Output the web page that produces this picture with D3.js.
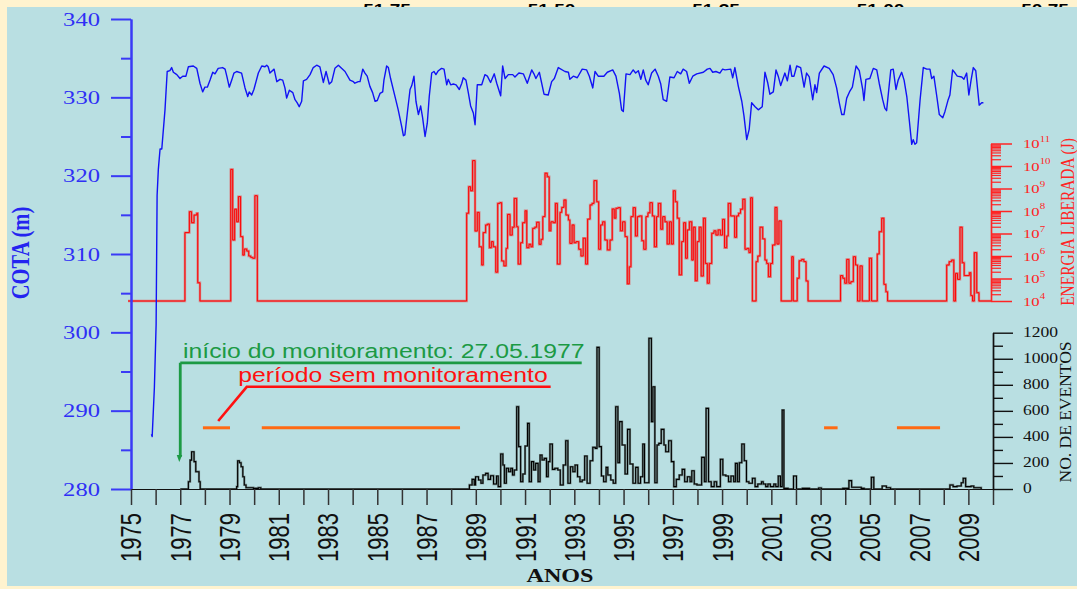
<!DOCTYPE html>
<html>
<head>
<meta charset="utf-8">
<script src="https://cdn.jsdelivr.net/npm/d3@7"></script>
<style>
  html, body { margin: 0; padding: 0; background: #fff3cf; }
  svg { display: block; }
</style>
</head>
<body>
<svg id="chart" width="1077" height="589"></svg>
<script>
// Nível do reservatório (cota, m) — [ano decimal, cota]
const cotaReservatorio = [
  [1975.83,287.0],[1975.86,286.7],[1975.95,293.0],[1976.02,301.0],[1976.06,317.5],[1976.11,320.8],
  [1976.18,323.4],[1976.25,323.4],[1976.38,328.4],[1976.47,333.3],[1976.58,333.4],[1976.65,333.8],
  [1976.72,333.2],[1976.86,332.9],[1976.99,332.4],[1977.10,332.7],[1977.23,332.7],[1977.33,333.9],
  [1977.53,334.0],[1977.67,333.7],[1977.80,331.8],[1977.91,330.7],[1978.00,331.3],[1978.10,331.3],
  [1978.21,332.2],[1978.32,333.2],[1978.41,333.0],[1978.54,333.7],[1978.72,333.8],[1978.82,333.6],
  [1978.89,332.7],[1978.99,331.3],[1979.09,332.2],[1979.18,333.1],[1979.29,333.3],[1979.49,333.1],
  [1979.63,331.2],[1979.74,330.1],[1979.80,330.7],[1979.90,330.3],[1979.99,331.0],[1980.17,333.1],
  [1980.31,334.0],[1980.44,333.9],[1980.51,334.1],[1980.57,333.9],[1980.64,333.1],[1980.81,333.6],
  [1980.92,332.0],[1981.05,332.3],[1981.16,332.2],[1981.25,331.2],[1981.32,329.9],[1981.43,330.9],
  [1981.57,330.6],[1981.66,329.7],[1981.75,329.3],[1981.83,328.8],[1981.93,329.5],[1982.00,332.1],
  [1982.13,332.3],[1982.27,332.9],[1982.40,333.8],[1982.54,334.1],[1982.67,333.9],[1982.81,331.9],
  [1982.92,333.3],[1983.05,331.7],[1983.15,332.0],[1983.28,333.7],[1983.42,334.1],[1983.55,333.7],
  [1983.69,333.3],[1983.89,332.2],[1984.03,332.0],[1984.09,331.8],[1984.23,332.0],[1984.30,332.0],
  [1984.41,333.6],[1984.50,333.1],[1984.59,332.7],[1984.70,331.4],[1984.81,330.6],[1984.91,329.5],
  [1985.00,329.6],[1985.11,330.5],[1985.22,330.7],[1985.27,332.2],[1985.38,334.0],[1985.45,333.8],
  [1985.54,332.4],[1985.72,330.1],[1985.85,328.4],[1985.99,326.3],[1986.06,325.1],[1986.12,325.2],
  [1986.22,328.0],[1986.33,331.0],[1986.40,331.5],[1986.49,332.7],[1986.57,329.5],[1986.67,327.8],
  [1986.76,328.9],[1986.84,327.4],[1986.94,325.0],[1987.03,326.7],[1987.11,330.1],[1987.21,333.1],
  [1987.30,333.3],[1987.38,332.9],[1987.48,333.4],[1987.61,333.7],[1987.71,333.6],[1987.82,331.6],
  [1987.88,332.3],[1987.98,331.6],[1988.09,331.7],[1988.20,331.6],[1988.33,331.0],[1988.43,331.8],
  [1988.49,332.5],[1988.60,332.2],[1988.69,330.7],[1988.79,328.9],[1988.90,328.0],[1988.97,326.5],
  [1989.06,331.6],[1989.24,331.6],[1989.37,332.9],[1989.47,332.7],[1989.60,331.9],[1989.75,333.0],
  [1989.85,331.8],[1990.01,330.2],[1990.09,334.0],[1990.19,332.4],[1990.32,332.9],[1990.50,332.9],
  [1990.59,332.6],[1990.75,333.1],[1990.93,333.0],[1991.09,331.8],[1991.27,333.5],[1991.36,333.0],
  [1991.44,332.4],[1991.58,333.2],[1991.77,330.4],[1991.94,330.3],[1992.08,332.0],[1992.19,332.4],
  [1992.35,333.8],[1992.62,333.3],[1992.76,333.2],[1992.82,332.3],[1992.96,332.7],[1993.12,332.5],
  [1993.32,333.6],[1993.50,333.5],[1993.61,332.7],[1993.75,331.2],[1993.84,333.3],[1993.97,332.7],
  [1994.20,332.7],[1994.34,333.2],[1994.56,333.5],[1994.69,332.7],[1994.83,330.5],[1994.92,328.4],
  [1994.99,328.2],[1995.10,333.0],[1995.26,332.9],[1995.39,333.5],[1995.49,333.1],[1995.60,333.4],
  [1995.70,332.3],[1995.80,333.5],[1995.90,332.2],[1996.00,331.6],[1996.14,333.1],[1996.28,333.6],
  [1996.41,332.7],[1996.51,331.7],[1996.61,329.7],[1996.75,329.5],[1996.88,332.6],[1997.05,332.5],
  [1997.18,333.3],[1997.32,333.0],[1997.42,333.6],[1997.56,333.3],[1997.67,331.8],[1997.81,332.7],
  [1997.97,333.0],[1998.24,333.2],[1998.40,333.6],[1998.51,333.7],[1998.62,333.2],[1998.75,333.3],
  [1998.91,333.1],[1999.02,333.6],[1999.12,333.5],[1999.35,333.6],[1999.43,332.5],[1999.52,333.8],
  [1999.66,331.4],[1999.80,329.5],[1999.89,327.6],[2000.00,324.6],[2000.10,325.9],[2000.20,329.3],
  [2000.34,328.8],[2000.47,328.4],[2000.63,328.8],[2000.74,333.2],[2000.85,331.9],[2000.94,330.4],
  [2001.08,330.7],[2001.19,333.5],[2001.28,332.7],[2001.38,331.5],[2001.55,333.1],[2001.65,332.1],
  [2001.76,334.1],[2001.83,332.7],[2001.92,332.7],[2002.03,334.0],[2002.19,333.8],[2002.33,331.3],
  [2002.43,333.1],[2002.54,332.6],[2002.68,329.7],[2002.77,331.6],[2002.84,330.6],[2002.95,333.1],
  [2003.14,334.0],[2003.35,333.7],[2003.51,332.9],[2003.65,331.2],[2003.76,329.3],[2003.86,327.8],
  [2003.95,327.8],[2004.06,329.9],[2004.19,330.8],[2004.29,331.3],[2004.44,334.0],[2004.57,333.4],
  [2004.71,331.0],[2004.76,329.6],[2004.84,332.3],[2005.00,332.4],[2005.14,333.7],[2005.28,333.5],
  [2005.38,331.8],[2005.52,329.7],[2005.61,328.6],[2005.68,328.3],[2005.85,333.5],[2005.95,333.6],
  [2006.06,331.0],[2006.15,332.2],[2006.29,333.2],[2006.39,332.2],[2006.50,330.1],[2006.60,327.1],
  [2006.70,324.0],[2006.76,324.6],[2006.83,324.0],[2006.90,324.2],[2007.04,329.7],[2007.17,333.8],
  [2007.31,333.6],[2007.44,333.6],[2007.51,332.4],[2007.60,332.7],[2007.71,330.3],[2007.82,327.8],
  [2007.96,327.4],[2008.05,328.2],[2008.18,329.7],[2008.25,330.3],[2008.36,333.5],[2008.46,333.1],
  [2008.55,332.7],[2008.73,332.6],[2008.82,332.3],[2008.93,333.1],[2009.02,330.3],[2009.11,332.2],
  [2009.20,333.8],[2009.30,333.4],[2009.44,329.0],[2009.54,329.3],[2009.61,329.3]
];

// Energia sísmica liberada — [ano decimal, expoente de 10 (J)]; 4 = linha de base (10^4 J)
const energiaLiberada = [
  [1974.88,4],[1977.19,7.04],[1977.37,7.97],[1977.46,7.48],[1977.56,7.82],[1977.67,7.90],[1977.71,4.81],[1977.80,4],
  [1979.05,9.85],[1979.13,6.71],[1979.21,8.08],[1979.29,7.52],[1979.36,8.64],[1979.45,6.86],[1979.54,6.04],
  [1979.60,6.31],[1979.70,6.22],[1979.78,6.00],[1979.86,5.94],[1979.94,5.90],[1980.03,8.68],[1980.13,4],
  [1988.63,7.90],[1988.71,9.08],[1988.79,8.90],[1988.87,10.24],[1988.97,7.11],[1989.06,7.94],[1989.14,6.41],
  [1989.24,5.60],[1989.30,7.04],[1989.40,7.38],[1989.48,7.42],[1989.55,6.37],[1989.63,6.64],[1989.71,6.41],
  [1989.81,5.28],[1989.89,8.34],[1989.98,8.37],
  [1990.05,5.78],[1990.14,5.56],[1990.23,6.34],[1990.29,7.85],[1990.39,6.93],[1990.48,7.28],[1990.56,8.56],
  [1990.66,7.30],[1990.72,5.64],[1990.82,6.59],[1990.90,7.48],
  [1991.00,8.01],[1991.07,6.37],[1991.16,6.52],[1991.24,6.41],[1991.31,7.23],[1991.40,7.28],[1991.47,7.50],
  [1991.57,6.52],[1991.65,6.74],[1991.72,7.75],[1991.81,9.68],[1991.90,9.52],[1991.98,7.12],
  [1992.05,7.52],[1992.15,7.48],[1992.23,8.34],[1992.31,5.64],[1992.42,7.94],[1992.49,8.16],[1992.58,8.49],
  [1992.66,7.82],[1992.76,7.60],[1992.82,6.56],[1992.91,7.38],[1992.99,6.59],
  [1993.07,6.64],[1993.18,6.30],[1993.27,6.00],[1993.36,6.79],[1993.46,5.64],[1993.54,7.64],[1993.64,8.27],
  [1993.72,8.34],[1993.80,9.35],[1993.91,8.41],[1993.99,6.30],
  [1994.07,7.38],[1994.15,7.52],[1994.24,6.71],[1994.34,6.27],[1994.45,6.71],[1994.54,8.09],[1994.62,7.68],
  [1994.69,8.12],[1994.78,8.15],[1994.87,7.12],[1994.96,7.52],
  [1995.06,6.86],[1995.15,4.76],[1995.23,5.52],[1995.30,7.75],[1995.39,8.15],[1995.48,6.89],[1995.56,7.75],
  [1995.64,7.78],[1995.74,6.68],[1995.82,6.30],[1995.91,7.75],[1995.99,7.92],
  [1996.07,8.37],[1996.17,7.78],[1996.25,6.41],[1996.34,7.75],[1996.41,8.34],[1996.51,7.19],[1996.59,7.75],
  [1996.68,7.52],[1996.77,6.53],[1996.86,7.52],[1996.94,6.53],
  [1997.02,8.90],[1997.10,8.41],[1997.18,7.68],[1997.26,5.16],[1997.36,6.64],[1997.44,7.48],[1997.52,5.90],
  [1997.59,7.16],[1997.67,7.52],[1997.77,5.82],[1997.83,7.28],[1997.91,4.90],[1997.99,6.64],
  [1998.07,7.28],[1998.15,5.11],[1998.24,7.68],[1998.32,5.67],[1998.40,4.79],[1998.48,5.67],[1998.58,7.01],
  [1998.67,7.12],[1998.75,6.93],[1998.84,7.16],[1998.93,6.93],
  [1999.02,7.63],[1999.10,6.37],[1999.19,6.89],[1999.25,8.34],[1999.35,7.78],[1999.51,6.83],[1999.59,7.78],
  [1999.67,7.90],[1999.75,8.08],[1999.84,8.52],[1999.93,6.30],
  [2000.01,6.34],[2000.09,6.15],[2000.16,8.59],[2000.23,4],[2000.38,5.75],[2000.45,6.00],[2000.54,7.28],
  [2000.65,6.76],[2000.74,5.82],[2000.81,5.67],[2000.88,5.08],[2000.97,5.67],
  [2001.05,6.49],[2001.15,8.16],[2001.23,6.53],[2001.31,7.56],[2001.40,4],[2001.83,5.97],[2001.89,4],
  [2002.05,5.01],[2002.13,5.79],[2002.23,5.85],[2002.32,5.75],[2002.41,4.89],[2002.49,4],
  [2003.81,5.13],[2003.90,5.01],[2003.98,4.79],[2004.06,5.85],[2004.15,4.79],[2004.23,4.86],[2004.33,5.97],
  [2004.42,5.60],[2004.50,4],[2004.60,5.56],[2004.69,4],[2004.98,5.90],
  [2005.07,4],[2005.30,6.09],[2005.38,7.08],[2005.48,7.68],[2005.57,4.74],[2005.65,4.41],[2005.72,4],
  [2008.12,5.60],[2008.22,5.75],[2008.32,5.82],[2008.41,4],[2008.48,5.23],[2008.56,4.96],[2008.66,7.28],
  [2008.75,5.70],[2008.83,5.13],[2009.04,5.26],[2009.10,4.24],[2009.17,4],[2009.24,6.15],[2009.34,4.37],
  [2009.43,4],[2009.92,4]
];

// Número de eventos sísmicos — [ano decimal, nº de eventos]
const numeroEventos = [
  [1977.00,0],[1977.33,56],[1977.40,222],[1977.46,286],[1977.56,210],[1977.63,133],[1977.76,56],[1977.81,0],
  [1979.29,18],[1979.33,217],[1979.40,202],[1979.47,171],[1979.54,94],[1979.60,31],[1979.67,10],[1979.97,5],
  [1980.17,10],[1980.27,0],
  [1988.74,31],[1988.85,74],[1988.94,31],[1988.99,94],[1989.11,69],[1989.21,44],[1989.29,107],[1989.40,120],
  [1989.50,74],[1989.60,102],[1989.72,38],[1989.84,100],[1989.91,18],
  [1990.01,269],[1990.10,184],[1990.16,44],[1990.24,159],[1990.33,133],[1990.42,159],[1990.49,107],
  [1990.56,146],[1990.66,632],[1990.74,325],[1990.82,56],[1990.91,115],
  [1991.00,330],[1991.10,504],[1991.17,56],[1991.26,210],[1991.35,146],[1991.43,197],[1991.53,56],
  [1991.61,261],[1991.69,223],[1991.78,235],[1991.87,94],[1991.94,210],
  [1992.01,345],[1992.11,151],[1992.21,159],[1992.33,146],[1992.43,31],[1992.55,184],[1992.65,371],
  [1992.74,44],[1992.84,171],[1992.94,133],
  [1993.03,184],[1993.13,94],[1993.23,56],[1993.32,69],[1993.42,253],[1993.52,44],[1993.64,217],
  [1993.75,320],[1993.85,312],[1993.92,1087],
  [1994.01,325],[1994.10,100],[1994.19,56],[1994.29,166],[1994.36,107],[1994.48,69],[1994.58,44],
  [1994.68,632],[1994.77,202],[1994.84,517],[1994.94,338],
  [1995.06,115],[1995.16,458],[1995.26,192],[1995.38,44],[1995.49,166],[1995.59,44],[1995.69,94],
  [1995.78,345],[1995.85,48],
  [1996.03,1157],[1996.13,517],[1996.19,785],[1996.27,48],[1996.36,338],[1996.43,350],[1996.53,458],
  [1996.64,338],[1996.71,286],[1996.83,371],[1996.94,210],
  [1997.04,18],[1997.14,74],[1997.26,107],[1997.38,151],[1997.48,56],[1997.59,94],[1997.70,56],
  [1997.77,140],[1997.87,38],[1997.98,31],
  [1998.17,243],[1998.28,56],[1998.35,619],[1998.45,56],[1998.56,18],[1998.68,56],[1998.78,18],[1998.93,228],
  [1999.03,107],[1999.15,100],[1999.26,56],[1999.36,100],[1999.47,56],[1999.54,197],[1999.62,56],
  [1999.70,202],[1999.80,345],[1999.90,217],[1999.99,56],
  [2000.09,44],[2000.23,82],[2000.34,18],[2000.45,38],[2000.60,56],[2000.67,38],[2000.77,18],[2000.86,38],
  [2000.96,18],
  [2001.10,38],[2001.18,18],[2001.28,100],[2001.37,18],[2001.44,606],[2001.51,5],[2001.68,0],[2001.90,100],
  [2002.02,0],[2002.26,5],[2002.55,0],[2002.92,8],[2003.03,0],[2003.90,5],
  [2004.15,64],[2004.26,13],[2004.51,13],[2004.65,5],[2004.77,0],[2005.06,90],[2005.16,0],[2005.50,23],
  [2005.67,10],[2005.84,0],
  [2008.25,31],[2008.38,18],[2008.54,23],[2008.71,48],[2008.79,82],[2008.89,18],[2009.01,18],[2009.11,23],
  [2009.22,10],[2009.37,10],[2009.52,0]
];

// Períodos sem monitoramento — [início, fim]
const periodosSemMonitoramento = [[1977.92,1979.02],[1980.31,1988.36],[2003.14,2003.69],[2006.10,2007.85]];

// Rótulos e marcas dos eixos
const rotulosTopo = [51.75, 51.50, 51.25, 51.00, 50.75];
const anosMarcas = d3.range(1975, 2011);
const anosRotulos = d3.range(1975, 2010, 2);
const cotaMarcas = d3.range(280, 341, 10);
const cotaMarcasMenores = d3.range(285, 340, 10);
const eventosMarcas = d3.range(0, 1201, 200);
const eventosMarcasMenores = d3.range(100, 1200, 200);
const energiaExpoentes = d3.range(4, 12);

const W = 1077, H = 589;
const SERIF = "'Liberation Serif','Times New Roman',serif";
const SANS = "'Liberation Sans',Arial,sans-serif";
const ESTICA = 1.27; // largura horizontal dos textos

const svg = d3.select("#chart");

// escalas
const x = d3.scaleLinear().domain([1975, 2010]).range([131, 993]);
const yCota = d3.scaleLinear().domain([280, 340]).range([489, 19]);
const yEnergia = d3.scaleLog().domain([1e4, 1e11]).range([301, 143.5]);
const yEventos = d3.scaleLinear().domain([0, 1200]).range([489, 332.7]);
const xTopo = d3.scaleLinear().domain([51.75, 50.75]).range([387, 1045]);

function texto(parent, px, py, str, o) {
  const rot = o.rot || 0;
  const s = o.sx || ESTICA;
  const sc = rot ? `scale(1,${s})` : `scale(${s},1)`;
  return parent.append("text")
    .attr("transform", `translate(${px},${py}) rotate(${rot}) ${sc}`)
    .attr("text-anchor", o.anchor || "start")
    .attr("dy", o.dy || null)
    .attr("fill", o.fill || "#000")
    .style("font-family", o.family || SERIF)
    .style("font-size", o.size + "px")
    .style("font-weight", o.weight || "normal")
    .text(str);
}

// fundo
svg.append("rect").attr("width", W).attr("height", H).attr("fill", "#fff3cf");

// escala superior (parcialmente encoberta pelo painel)
rotulosTopo.forEach(v => texto(svg, xTopo(v), 13.7, v.toFixed(2),
  { size: 15, family: SANS, weight: "bold", anchor: "middle" }));

// painel
svg.append("rect").attr("x", 7).attr("y", 7).attr("width", W - 7).attr("height", 579).attr("fill", "#b9dfe2");

// períodos sem monitoramento
svg.append("g").selectAll("line").data(periodosSemMonitoramento).join("line")
  .attr("x1", d => x(d[0])).attr("x2", d => x(d[1]))
  .attr("y1", 427.8).attr("y2", 427.8)
  .attr("stroke", "#ff6a13").attr("stroke-width", 3);

// anotação: início do monitoramento
const verde = "#1c9a44";
svg.append("path")
  .attr("d", `M${x(1977)},362.8 H${x(1993.3)} M${x(1977)},362.8 V457`)
  .attr("fill", "none").attr("stroke", verde).attr("stroke-width", 2.8);
svg.append("path")
  .attr("d", `M${x(1977) - 3.5},455 L${x(1977) + 2},455 L${x(1977) - 1},462 Z`)
  .attr("fill", verde);
texto(svg, 183, 358.3, "início do monitoramento: 27.05.1977", { size: 19.5, family: SANS, fill: verde });

// anotação: período sem monitoramento
const vermelho = "#ff1010";
svg.append("path")
  .attr("d", `M${x(1992.04)},386.8 H${x(1979.7)} L${x(1978.54)},421`)
  .attr("fill", "none").attr("stroke", vermelho).attr("stroke-width", 2.6);
texto(svg, 238.3, 381.7, "período sem monitoramento", { size: 19.5, family: SANS, fill: vermelho });

// número de eventos (degraus)
const linhaEventos = d3.line().x(d => x(d[0])).y(d => yEventos(d[1])).curve(d3.curveStepAfter);
svg.append("path").datum(numeroEventos).attr("d", linhaEventos)
  .attr("fill", "none").attr("stroke", "#56625f").attr("stroke-width", 2.2).attr("stroke-opacity", 0.7);
svg.append("path").datum(numeroEventos).attr("d", linhaEventos)
  .attr("fill", "none").attr("stroke", "#000").attr("stroke-width", 1.1);

// energia liberada (degraus, escala log)
const linhaEnergia = d3.line().x(d => x(d[0])).y(d => yEnergia(Math.pow(10, d[1]))).curve(d3.curveStepAfter);
svg.append("path").datum(energiaLiberada).attr("d", linhaEnergia)
  .attr("fill", "none").attr("stroke", "#e26262").attr("stroke-width", 2.4).attr("stroke-opacity", 0.75);
svg.append("path").datum(energiaLiberada).attr("d", linhaEnergia)
  .attr("fill", "none").attr("stroke", "#ff0000").attr("stroke-width", 1);

// cota do reservatório
const linhaCota = d3.line().x(d => x(d[0])).y(d => yCota(d[1]));
svg.append("path").datum(cotaReservatorio).attr("d", linhaCota)
  .attr("fill", "none").attr("stroke", "#1212f5").attr("stroke-width", 1.4).attr("stroke-linejoin", "round");

// eixo esquerdo (cota)
const azulEixo = "#3a3af6";
function estiloEixo(g, cor, larg) {
  g.selectAll("path.domain").attr("stroke", cor).attr("stroke-width", larg);
  g.selectAll(".tick line").attr("stroke", cor).attr("stroke-width", larg);
}
const gCota = svg.append("g").attr("transform", "translate(131,0)")
  .call(d3.axisLeft(yCota).tickValues(cotaMarcas).tickSize(20).tickSizeOuter(0).tickFormat(""));
estiloEixo(gCota, azulEixo, 2);
const gCotaMenor = svg.append("g").attr("transform", "translate(131,0)")
  .call(d3.axisLeft(yCota).tickValues(cotaMarcasMenores).tickSize(10).tickSizeOuter(0).tickFormat(""));
estiloEixo(gCotaMenor, azulEixo, 2);
cotaMarcas.forEach(v => texto(svg, 100, yCota(v) + 6.5, String(v),
  { size: 19.7, family: SERIF, fill: "#2f2ff5", anchor: "end", sx: 1.25 }));
texto(svg, 29, 253, "COTA (m)", { size: 20.5, family: SERIF, weight: "bold", fill: "#2424f0", anchor: "middle", rot: -90 });

// eixo inferior (anos)
const gAnos = svg.append("g").attr("transform", "translate(0,489)")
  .call(d3.axisBottom(x).tickValues(anosMarcas).tickSize(16).tickSizeOuter(0).tickFormat(""));
gAnos.selectAll("path.domain").attr("stroke", "#111").attr("stroke-width", 1.2);
gAnos.selectAll(".tick line").attr("stroke", "#333").attr("stroke-width", 1.5);
anosRotulos.forEach(a => texto(svg, x(a), 513, String(a),
  { size: 22, family: SANS, fill: "#111", anchor: "end", rot: -90, dy: "0.36em", sx: 1.32 }));
texto(svg, 560, 581.7, "ANOS", { size: 19, family: SERIF, weight: "bold", fill: "#111", anchor: "middle" });

// eixo direito inferior (nº de eventos)
const gEv = svg.append("g").attr("transform", "translate(993,0)")
  .call(d3.axisRight(yEventos).tickValues(eventosMarcas).tickSize(20).tickSizeOuter(0).tickFormat(""));
estiloEixo(gEv, "#111", 1.4);
const gEvMenor = svg.append("g").attr("transform", "translate(993,0)")
  .call(d3.axisRight(yEventos).tickValues(eventosMarcasMenores).tickSize(10).tickSizeOuter(0).tickFormat(""));
estiloEixo(gEvMenor, "#111", 1.4);
eventosMarcas.forEach(v => texto(svg, 1023, yEventos(v) + 4.2, String(v),
  { size: 13.8, family: SERIF, fill: "#111" }));
texto(svg, 1071, 412, "NO. DE EVENTOS", { size: 17.5, family: SERIF, fill: "#111", anchor: "middle", rot: -90, sx: 0.95 });

// eixo direito superior (energia, log)
const vermelhoEixo = "#ff2424";
const decadas = energiaExpoentes.map(e => Math.pow(10, e));
const menores = [];
energiaExpoentes.slice(0, -1).forEach(e => d3.range(2, 10).forEach(m => menores.push(m * Math.pow(10, e))));
const gEn = svg.append("g").attr("transform", "translate(991,0)")
  .call(d3.axisRight(yEnergia).tickValues(decadas).tickSize(21).tickSizeOuter(0).tickFormat(""));
estiloEixo(gEn, vermelhoEixo, 1.5);
const gEnMenor = svg.append("g").attr("transform", "translate(991,0)")
  .call(d3.axisRight(yEnergia).tickValues(menores).tickSize(10).tickSizeOuter(0).tickFormat(""));
estiloEixo(gEnMenor, vermelhoEixo, 1.2);
energiaExpoentes.forEach(e => {
  const t = svg.append("text")
    .attr("transform", `translate(1023,${yEnergia(Math.pow(10, e)) + 4.6}) scale(${ESTICA},1)`)
    .attr("fill", vermelhoEixo)
    .style("font-family", SERIF).style("font-size", "13.1px");
  t.append("tspan").text("10");
  t.append("tspan").attr("dy", -6.5).style("font-size", "8.6px").text(String(e));
});
texto(svg, 1073.5, 222, "ENERGIA LIBERADA (J)", { size: 15.4, family: SERIF, fill: vermelhoEixo, anchor: "middle", rot: -90, sx: 1.2 });
</script>
</body>
</html>
